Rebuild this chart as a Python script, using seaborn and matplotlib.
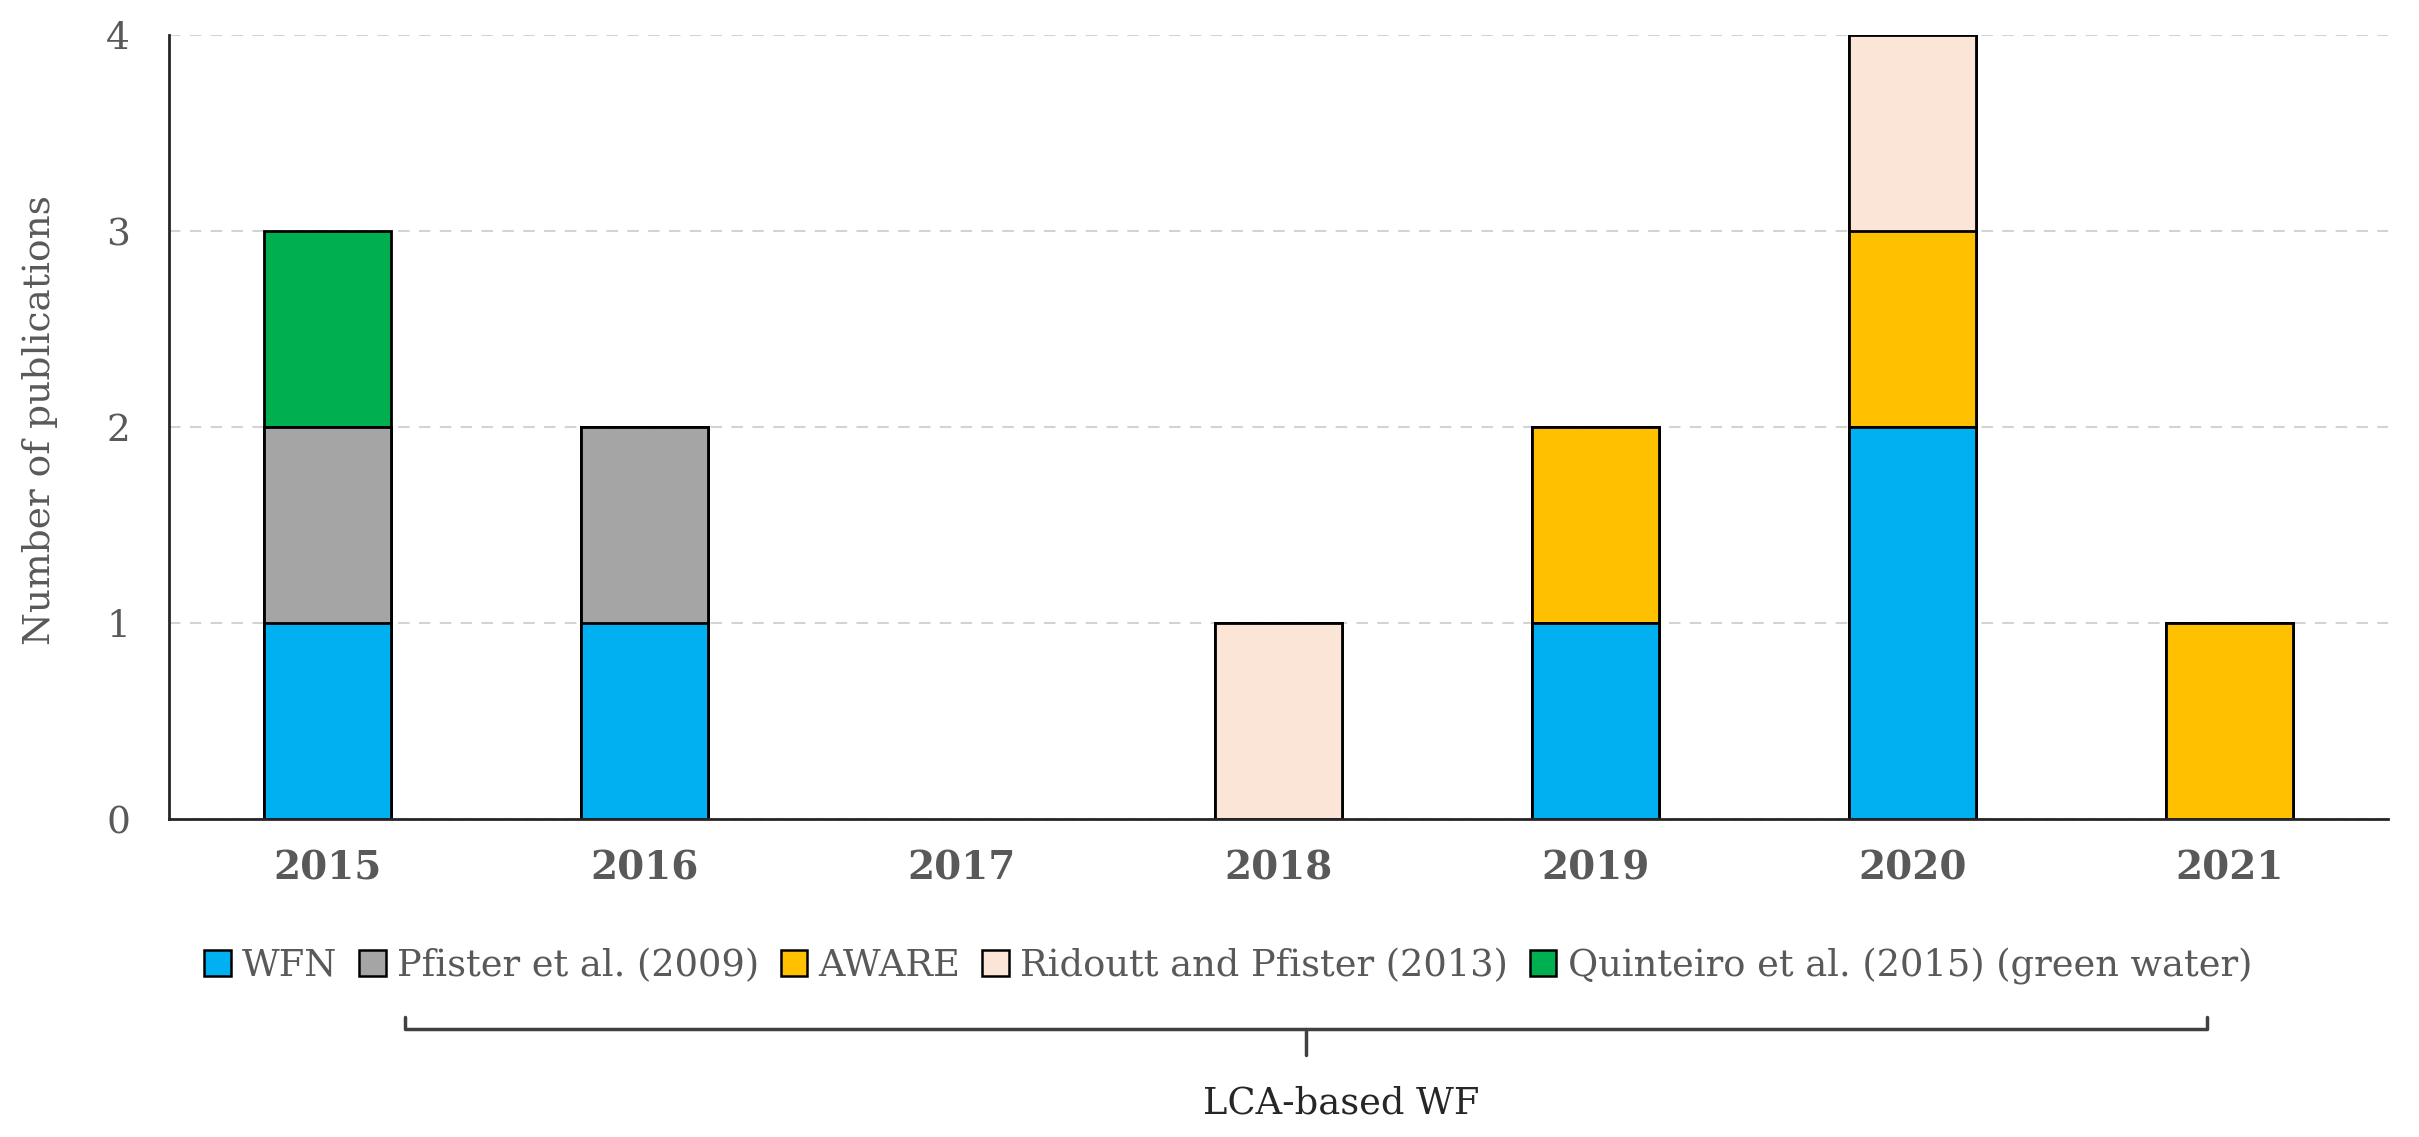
import numpy as np
import pandas as pd
import matplotlib
matplotlib.use("Agg")
import matplotlib.pyplot as plt
import seaborn as sns
from matplotlib.patches import Patch
from matplotlib.lines import Line2D

# 数据
years = ["2015", "2016", "2017", "2018", "2019", "2020", "2021"]
wfn = [1, 1, 0, 0, 1, 2, 0]
pfister = [1, 1, 0, 0, 0, 0, 0]
aware = [0, 0, 0, 0, 1, 1, 1]
ridoutt = [0, 0, 0, 1, 0, 1, 0]
quinteiro = [1, 0, 0, 0, 0, 0, 0]

series_names = ["WFN", "Pfister et al. (2009)", "AWARE",
                "Ridoutt and Pfister (2013)", "Quinteiro et al. (2015) (green water)"]
series_vals = [wfn, pfister, aware, ridoutt, quinteiro]
colors = ["#00B0F0", "#A5A5A5", "#FFC000", "#FBE5D6", "#00B050"]

TEXT_GREY = "#595959"
W, H = 2419, 1137

sns.set_theme(style="white")
plt.rcParams["font.family"] = ["DejaVu Serif"]

fig = plt.figure(figsize=(W / 100, H / 100), dpi=100)
ax = fig.add_axes([169 / W, 1 - 819 / H, (2388 - 169) / W, (819 - 35) / H])

# 堆叠柱：从顶层往下画累计值（0 高度不画）
cum = np.cumsum(np.array(series_vals, dtype=float), axis=0)
for i in range(len(series_names) - 1, -1, -1):
    heights = np.where(cum[i] > 0, cum[i], np.nan)
    df = pd.DataFrame({"year": years, "count": heights})
    sns.barplot(data=df, x="year", y="count", order=years, color=colors[i],
                saturation=1, width=0.4, edgecolor="black", linewidth=2.0,
                errorbar=None, ax=ax, zorder=3)

ax.set_ylim(0, 4)
ax.set_xlim(-0.5, 6.5)
ax.set_yticks([0, 1, 2, 3, 4])
ax.grid(axis="y", color="#D3D3D3", linestyle=(0, (5.5, 4.5)), linewidth=1.5, zorder=0)
ax.set_axisbelow(True)

for side in ["top", "right"]:
    ax.spines[side].set_visible(False)
for side in ["left", "bottom"]:
    ax.spines[side].set_color("#262626")
    ax.spines[side].set_linewidth(2.0)
    ax.spines[side].set_zorder(4)

ax.tick_params(axis="y", length=0, pad=28, labelsize=27, labelcolor=TEXT_GREY)
ax.tick_params(axis="x", length=0, pad=22, labelsize=28, labelcolor=TEXT_GREY)
for lbl in ax.get_xticklabels():
    lbl.set_fontweight("bold")

ax.set_xlabel("")
ax.set_ylabel("Number of publications", fontsize=27, color=TEXT_GREY)
ax.yaxis.set_label_coords(-0.050, 0.509)

# 图例
handles = [Patch(facecolor=c, edgecolor="black", linewidth=1.8) for c in colors]
fig.legend(handles, series_names, loc="center", bbox_to_anchor=(1228 / W, 1 - 966 / H),
           ncol=5, frameon=False, fontsize=26.5, handlelength=0.72, handleheight=0.72,
           handletextpad=0.3, columnspacing=0.6, labelcolor=TEXT_GREY)

# 底部括号
def fx(px):
    return px / W

def fy(py):
    return 1 - py / H

bracket_col = "#404040"
fig.add_artist(Line2D([fx(405), fx(405), fx(2207), fx(2207)],
                      [fy(1017), fy(1029), fy(1029), fy(1017)],
                      color=bracket_col, linewidth=2.5, solid_joinstyle="round",
                      solid_capstyle="round"))
fig.add_artist(Line2D([fx(1306), fx(1306)], [fy(1029), fy(1055)],
                      color=bracket_col, linewidth=2.5))
fig.text(fx(1341), fy(1113), "LCA-based WF", ha="center", va="baseline",
         fontsize=26.5, color="#262626")

fig.savefig("out.png", dpi=100)
